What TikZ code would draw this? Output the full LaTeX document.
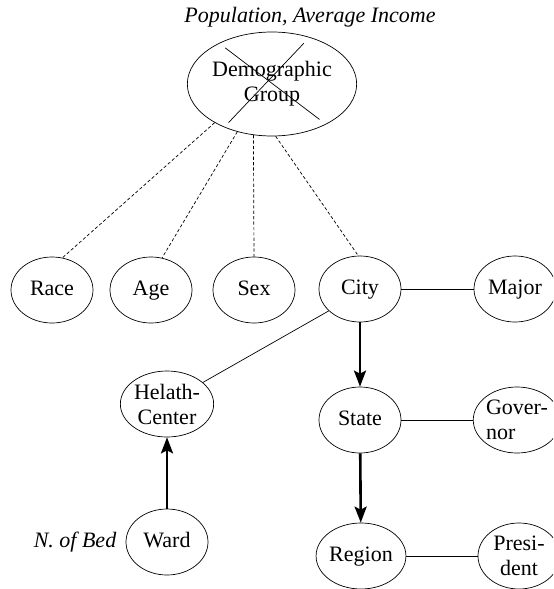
\documentclass[tikz,border=0pt]{standalone}
\usepackage{fontspec}
\setmainfont{Liberation Serif}
\usepackage{tikz}
\usetikzlibrary{arrows.meta, shapes.geometric}

\begin{document}
\begin{tikzpicture}[x=0.5pt, y=-0.5pt,
        every node/.style={ellipse, draw, line width=0.35pt, inner sep=0pt,
        minimum width=41pt, minimum height=33pt, align=center,
        font=\fontsize{11}{12.5}\selectfont},
        one/.style={text height=1.45ex, text depth=0.35ex},
        plain/.style={draw=none, rectangle, minimum width=0pt, minimum height=0pt,
        font=\fontsize{11}{12.5}\selectfont\itshape},
        dotline/.style={line width=0.35pt, dash pattern=on 1.6pt off 1.1pt},
        link/.style={line width=0.35pt},
        isa/.style={line width=1.3pt, -{Stealth[length=8pt, width=6pt, inset=1.5pt]}}]
        \clip (0,0) rectangle (553,589);
        \useasboundingbox (0,0) rectangle (553,589);

        \node[plain] (T) at (310,17) {Population, Average Income};
        \node[minimum width=65pt, minimum height=52pt] (Demo) at (272,84) {Demographic\\Group};

        \node[one] (Race) at (52,290) {Race};
        \node[one] (Age) at (151,290) {Age};
        \node[one] (Sex) at (254,290) {Sex};
        \node[one] (City) at (360,289) {City};
        \node[one] (Major) at (515,289) {Major};

        \node (Health) at (167,404) {Helath-\\Center};
        \node[one] (State) at (360,420) {State};
        \node[align=left] (Gov) at (517,420) {Gover-\\nor};

        \node[one] (Ward) at (167,542) {Ward};
        \node[plain] (Bed) at (75,542) {N. of Bed};
        \node[one] (Region) at (361,556) {Region};
        \node (Pres) at (519,556) {Presi-\\dent};

        \draw[link] ([shift={(136:32.5pt and 26pt)}]Demo.center) -- ([shift={(-43:32.5pt and 26pt)}]Demo.center);
        \draw[link] ([shift={(58:30pt and 24pt)}]Demo.center) -- ([shift={(228:32.5pt and 26pt)}]Demo.center);

        \draw[dotline] (Demo.214) -- (Race.72);
        \draw[dotline] (Demo.234) -- (Age.71);
        \draw[dotline] (Demo.250) -- (Sex.90);
        \draw[dotline] (Demo.274) -- (City.93);

        \draw[link] (City) -- (Major);
        \draw[link] (City.215) -- (Health.31);
        \draw[link] (State) -- (Gov);
        \draw[link] (Region) -- (Pres);

        \draw[isa] (City) -- (State);
        \draw[isa] (State) -- (Region);
        \draw[isa] (Ward) -- (Health);
    \end{tikzpicture}
\end{document}
